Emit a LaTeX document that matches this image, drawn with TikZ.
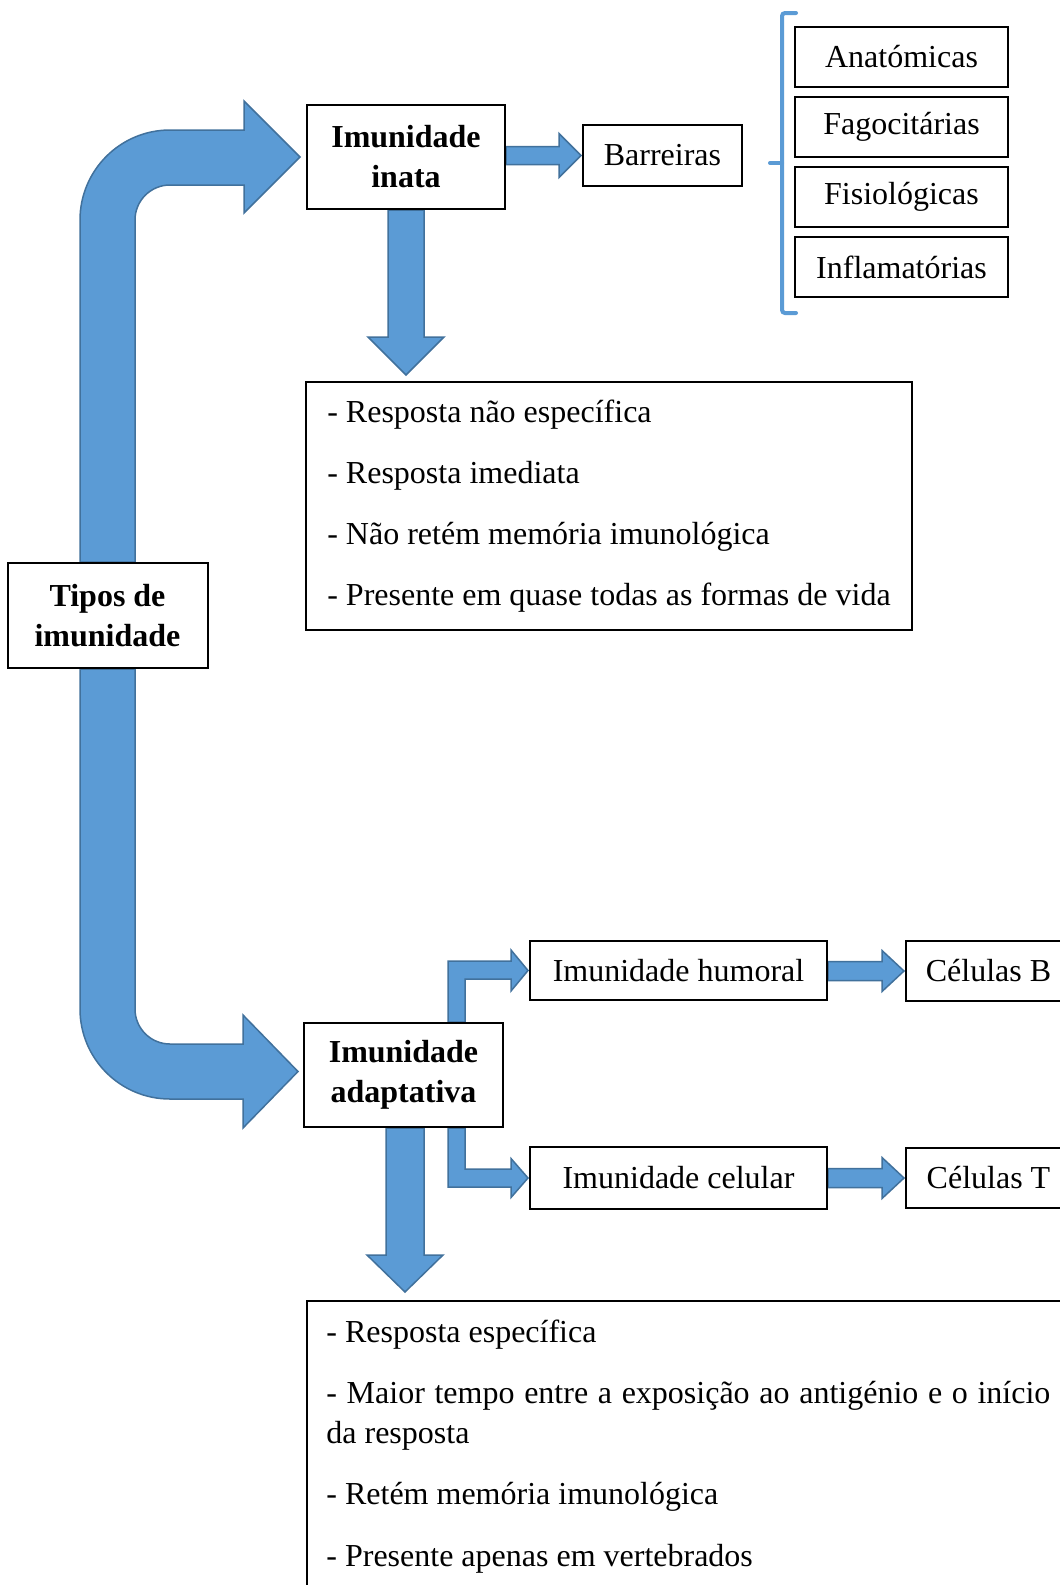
\documentclass[tikz,border=0pt]{standalone}
\usepackage{fontspec}
\setmainfont{Liberation Serif}
\usetikzlibrary{calc,backgrounds}
\definecolor{arrowblue}{HTML}{5B9BD5}
\definecolor{arrowedge}{HTML}{41719C}
% horizontal block arrow: from, to, shaft half, head half, head length
\newcommand\harrow[5]{%
  \draw[blockarrow] let \p1=(#1), \p2=(#2) in
    (\x1,\y2+#3) -- (\x2-#5,\y2+#3) -- (\x2-#5,\y2+#4) -- (\x2,\y2)
    -- (\x2-#5,\y2-#4) -- (\x2-#5,\y2-#3) -- (\x1,\y2-#3) -- cycle;}
% vertical (downward) block arrow: from, to, shaft half, head half, head length, gap
\newcommand\varrow[6]{%
  \draw[blockarrow] let \p1=(#1), \p2=(#2) in
    (\x1-#3,\y1) -- (\x1-#3,\y2+#6+#5) -- (\x1-#4,\y2+#6+#5) -- (\x1,\y2+#6)
    -- (\x1+#4,\y2+#6+#5) -- (\x1+#3,\y2+#6+#5) -- (\x1+#3,\y1) -- cycle;}
\begin{document}
\begin{tikzpicture}[x=0.5pt,y=-0.5pt,
  box/.style={draw=black,line width=1pt,fill=white,inner sep=0pt,align=center,
    font=\fontsize{16}{20}\selectfont},
  headbox/.style={box,font=\fontsize{16}{20}\selectfont\bfseries},
  blockarrow/.style={fill=arrowblue,draw=arrowedge,line width=0.75pt,line join=miter},
  bracket/.style={draw=arrowblue,line width=2pt,line cap=round,rounded corners=1.5pt}]
\useasboundingbox (0,0) rectangle (1060,1585);

% nodes
\node[headbox,minimum width=100pt,minimum height=52.5pt] (tipos) at (107.5,615.5) {Tipos de\\imunidade};
\node[headbox,minimum width=99pt,minimum height=52pt] (inata) at (406,157) {Imunidade\\inata};
\node[box,minimum width=79.5pt,minimum height=30.5pt] (barreiras) at (662.5,155.5) {Barreiras};
\node[box,minimum width=106.5pt,minimum height=30pt] (anat) at (901.5,57) {Anatómicas};
\node[box,minimum width=106.5pt,minimum height=30pt] (fago) at (901.5,127) {Fagocitárias};
\node[box,minimum width=106.5pt,minimum height=30pt] (fisio) at (901.5,197) {Fisiológicas};
\node[box,minimum width=106.5pt,minimum height=30pt] (infla) at (901.5,267) {Inflamatórias};
\node[box,minimum width=303pt,minimum height=124pt,align=left,
  font=\fontsize{16}{30.5}\selectfont] (inataText) at (609,506)
  {- Resposta não específica\\- Resposta imediata\\- Não retém memória imunológica\\- Presente em quase todas as formas de vida};
\node[headbox,minimum width=99.5pt,minimum height=52pt] (adapt) at (403.5,1075) {Imunidade\\adaptativa};
\node[box,minimum width=148.5pt,minimum height=29.5pt] (humoral) at (678.5,970.5) {Imunidade humoral};
\node[box,minimum width=148.5pt,minimum height=31pt] (celular) at (678.5,1178) {Imunidade celular};
\node[box,minimum width=82.5pt,minimum height=30pt] (celB) at (988.5,971) {Células B};
\node[box,minimum width=82.5pt,minimum height=30pt] (celT) at (988.5,1178) {Células T};
\node[box,minimum width=381.5pt,minimum height=149.5pt] (adaptText) at (688.5,1450.5) {};
\node[anchor=base west,inner sep=0pt,font=\fontsize{16}{20}\selectfont] (adaptLines) at (326,1342)
  {\parbox[t]{362pt}{\raggedright
   - Resposta específica\\[10.8pt]
   \makebox[362pt][s]{- Maior tempo entre a exposição ao antigénio e o início}\\
   da resposta\\[10.5pt]
   - Retém memória imunológica\\[10.8pt]
   - Presente apenas em vertebrados}};

% bracket
\draw[bracket] (796,13) -- (782,13) -- (782,313) -- (796,313);
\draw[bracket] (782,163) -- (770,163);

\begin{pgfonlayer}{background}
\fill[white] (0,0) rectangle (1060,1585);
% big curved arrow up to innate
\draw[blockarrow] ($(tipos.north)+(-27.5,0)$) -- (80,220)
  arc[start angle=180,end angle=90,radius=45pt] -- (244,130) -- (244,101)
  -- ([xshift=-3pt]inata.west) -- (244,213) -- (244,185) -- (170,185)
  arc[start angle=90,end angle=180,radius=17.5pt] -- ($(tipos.north)+(27.5,0)$) -- cycle;
% big curved arrow down to adaptive
\draw[blockarrow] ($(tipos.south)+(-27.5,0)$) -- (80,1009)
  arc[start angle=180,end angle=270,radius=45pt] -- (243,1099) -- (243,1128)
  -- ($(adapt.west)+(-5,-3.5)$) -- (243,1015) -- (243,1044) -- (170,1044)
  arc[start angle=270,end angle=180,radius=17.5pt] -- ($(tipos.south)+(27.5,0)$) -- cycle;
% straight arrows
\harrow{inata.east}{[xshift=-0.5pt]barreiras.west}{4.5pt}{11pt}{11pt}
\harrow{humoral.east}{[xshift=-0.5pt]celB.west}{4.75pt}{10.25pt}{11pt}
\harrow{celular.east}{[xshift=-0.5pt]celT.west}{4.75pt}{10.25pt}{11pt}
\varrow{inata.south}{inataText.north}{9pt}{19pt}{19pt}{3pt}
\varrow{[xshift=0.75pt]adapt.south}{adaptText.north}{9.5pt}{19pt}{18.5pt}{4pt}
% bent arrows
\draw[blockarrow] ($(adapt.north)+(44.5,0)$) -- (448,961) -- (511,961) -- (511,950)
  -- ([xshift=-0.5pt]humoral.west) -- (511,991) -- (511,979) -- (465,979)
  -- ($(adapt.north)+(61.5,0)$) -- cycle;
\draw[blockarrow] ($(adapt.south)+(44.5,0)$) -- (448,1187) -- (511,1187) -- (511,1197.5)
  -- ([xshift=-0.5pt]celular.west) -- (511,1158.5) -- (511,1169) -- (465,1169)
  -- ($(adapt.south)+(61.5,0)$) -- cycle;
\end{pgfonlayer}
\end{tikzpicture}
\end{document}
